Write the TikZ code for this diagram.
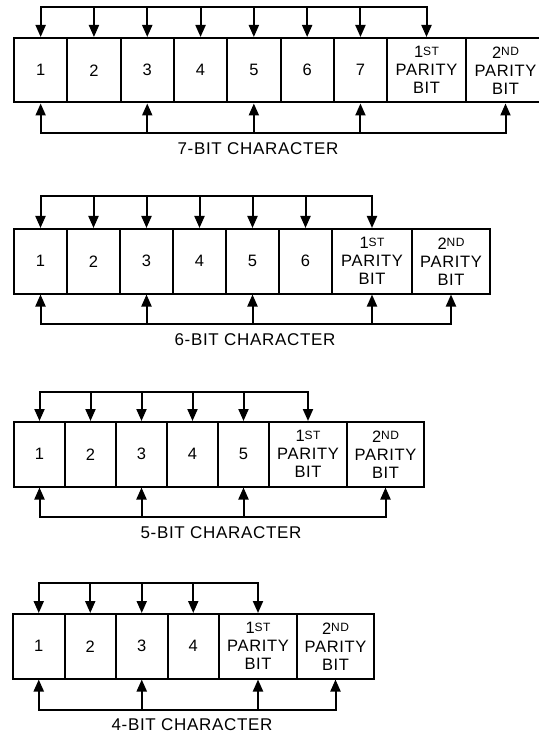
\documentclass[tikz,border=0pt]{standalone}
\usepackage{fontspec}
\setmainfont{Liberation Sans}[LetterSpace=4]
\usetikzlibrary{arrows.meta}
\newcommand{\ordmark}[2]{#1\raisebox{0.3ex}{\fontsize{12}{12}\selectfont #2}}

\begin{document}
\begin{tikzpicture}[x=1pt,y=-1pt,
  bitbox/.style={draw,line width=2pt,anchor=north west,inner sep=0pt,
    minimum width=#1,minimum height=64.5,align=center,
    font=\fontsize{16.5}{18}\selectfont},
  bus/.style={line width=2pt,line cap=rect},
  tip/.style={line width=2pt,-{Triangle[length=12pt,width=10pt]}},
  caption/.style={font=\fontsize{17}{18}\selectfont}]
\useasboundingbox (0,0) rectangle (538,735);

% 7-bit character
\foreach \i in {1,...,7}
  \node[bitbox=53.3] (sev\i) at ({13+(\i-1)*53.3},37) {\i};
\node[bitbox=79] (sev8) at (386,37) {\ordmark{1}{ST}\\PARITY\\BIT};
\node[bitbox=79] (sev9) at (465,37) {\ordmark{2}{ND}\\PARITY\\BIT};
\coordinate (sevtop) at (0,7);
\coordinate (sevbot) at (0,133);
\draw[bus] (sev1.north |- sevtop) -- (sev8.north |- sevtop);
\foreach \i in {1,...,8} \draw[tip] (sev\i.north |- sevtop) -- (sev\i.north);
\draw[bus] (sev1.south |- sevbot) -- (sev9.south |- sevbot);
\foreach \i in {1,3,5,7,9} \draw[tip] (sev\i.south |- sevbot) -- (sev\i.south);
\node[caption] (sevlabel) at (258,149) {7-BIT CHARACTER};

% 6-bit character
\foreach \i in {1,...,6}
  \node[bitbox=53] (six\i) at ({13+(\i-1)*53},228) {\i};
\node[bitbox=80] (six7) at (331,228) {\ordmark{1}{ST}\\PARITY\\BIT};
\node[bitbox=78] (six8) at (411,228) {\ordmark{2}{ND}\\PARITY\\BIT};
\coordinate (sixtop) at (0,196);
\coordinate (sixbot) at (0,324);
\draw[bus] (six1.north |- sixtop) -- (six7.north |- sixtop);
\foreach \i in {1,...,7} \draw[tip] (six\i.north |- sixtop) -- (six\i.north);
\draw[bus] (six1.south |- sixbot) -- (six8.south |- sixbot);
\foreach \i in {1,3,5,7,8} \draw[tip] (six\i.south |- sixbot) -- (six\i.south);
\node[caption] (sixlabel) at (255,340) {6-BIT CHARACTER};

% 5-bit character
\foreach \i in {1,...,5}
  \node[bitbox=51] (fiv\i) at ({13+(\i-1)*51},421) {\i};
\node[bitbox=78] (fiv6) at (268,421) {\ordmark{1}{ST}\\PARITY\\BIT};
\node[bitbox=77] (fiv7) at (346,421) {\ordmark{2}{ND}\\PARITY\\BIT};
\coordinate (fivtop) at (0,392);
\coordinate (fivbot) at (0,517);
\draw[bus] (fiv1.north |- fivtop) -- (fiv6.north |- fivtop);
\foreach \i in {1,...,6} \draw[tip] (fiv\i.north |- fivtop) -- (fiv\i.north);
\draw[bus] (fiv1.south |- fivbot) -- (fiv7.south |- fivbot);
\foreach \i in {1,3,5,7} \draw[tip] (fiv\i.south |- fivbot) -- (fiv\i.south);
\node[caption] (fivlabel) at (221,533) {5-BIT CHARACTER};

% 4-bit character
\foreach \i in {1,...,4}
  \node[bitbox=51.5] (fou\i) at ({12+(\i-1)*51.5},613) {\i};
\node[bitbox=78] (fou5) at (218,613) {\ordmark{1}{ST}\\PARITY\\BIT};
\node[bitbox=77] (fou6) at (296,613) {\ordmark{2}{ND}\\PARITY\\BIT};
\coordinate (foutop) at (0,583);
\coordinate (foubot) at (0,710);
\draw[bus] (fou1.north |- foutop) -- (fou5.north |- foutop);
\foreach \i in {1,...,5} \draw[tip] (fou\i.north |- foutop) -- (fou\i.north);
\draw[bus] (fou1.south |- foubot) -- (fou6.south |- foubot);
\foreach \i in {1,3,5,6} \draw[tip] (fou\i.south |- foubot) -- (fou\i.south);
\node[caption] (foulabel) at (192,725) {4-BIT CHARACTER};

\end{tikzpicture}
\end{document}
